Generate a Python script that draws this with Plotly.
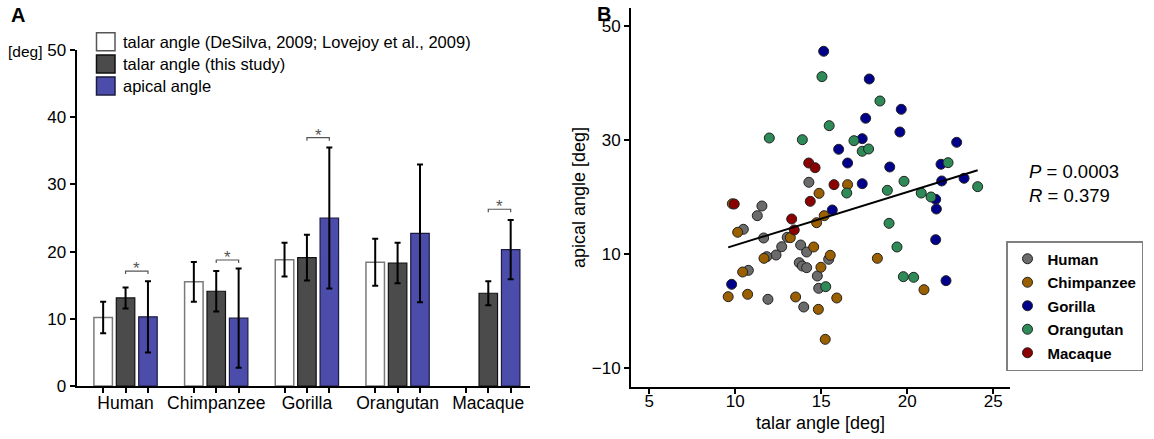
import numpy as np
import plotly.graph_objects as go

# ---------------- Panel A data ----------------
species = ["Human", "Chimpanzee", "Gorilla", "Orangutan", "Macaque"]
talar_lit_mean = [10.2, 15.5, 18.8, 18.4, None]
talar_lit_sd = [2.35, 2.95, 2.5, 3.5, None]
talar_study_mean = [13.1, 14.1, 19.1, 18.3, 13.8]
talar_study_sd = [1.55, 3.0, 3.4, 3.0, 1.8]
apical_mean = [10.3, 10.1, 25.0, 22.7, 20.3]
apical_sd = [5.3, 7.4, 10.5, 10.25, 4.4]
sig_species = ["Human", "Chimpanzee", "Gorilla", "Macaque"]
sig_y = [17.1, 18.75, 36.95, 26.3]

# ---------------- Panel B data ----------------
human_talar = [14.28, 11.55, 11.28, 10.47, 11.65, 12.70, 13.02, 12.37, 11.83, 13.80,
               14.15, 13.72, 13.90, 14.15, 15.43, 14.77, 14.85, 10.76, 11.90, 13.98]
human_apical = [22.58, 18.42, 16.72, 14.33, 12.81, 11.28, 12.93, 9.82, 9.53, 11.58,
                10.35, 8.47, 7.89, 7.60, 9.07, 6.14, 3.98, 7.13, 2.05, 0.70]
chimp_talar = [9.83, 10.14, 13.20, 14.73, 15.17, 11.67, 14.56, 15.52, 14.98, 10.43,
               9.59, 10.72, 13.51, 14.83, 15.90, 15.23, 18.26, 20.97, 16.53, 14.87]
chimp_apical = [18.8, 13.81, 12.87, 15.49, 16.72, 9.24, 11.23, 9.77, 7.67, 6.84,
                2.51, 2.93, 2.46, 0.29, 2.28, -4.97, 9.24, 3.74, 22.16, 20.64]
gorilla_talar = [15.14, 17.79, 19.65, 17.58, 19.57, 17.38, 22.87, 16.01, 16.53, 18.98,
                 21.96, 17.38, 22.00, 23.30, 21.65, 21.69, 15.64, 21.65, 22.25, 9.79]
gorilla_apical = [45.56, 40.70, 35.38, 33.81, 31.40, 30.23, 29.59, 28.37, 25.96, 25.26,
                  25.74, 22.33, 22.81, 23.28, 19.59, 17.89, 17.72, 12.51, 5.32, 4.68]
orang_talar = [15.04, 18.41, 15.46, 11.98, 13.90, 16.90, 17.38, 17.75, 22.37, 19.81,
               24.09, 18.84, 16.48, 20.81, 21.38, 18.94, 19.40, 19.77, 20.37, 15.26]
orang_apical = [41.11, 36.84, 32.51, 30.35, 30.05, 29.88, 28.02, 28.42, 26.02, 22.75,
                21.81, 21.17, 20.70, 20.70, 20.00, 15.38, 11.23, 6.02, 5.91, 4.27]
macaque_talar = [9.94, 14.27, 14.64, 15.74, 14.36, 13.28, 13.43]
macaque_apical = [18.77, 25.96, 25.14, 22.16, 19.24, 16.14, 14.21]
stat_text = ["<i>P</i> = 0.0003", "<i>R</i> = 0.379"]

W, H = 1154, 439
FONT = "Liberation Sans, Arial, Helvetica, sans-serif"


def px(x):
    return x / W


def py(y):
    return 1 - y / H


fig = go.Figure()

# ---------------- Panel A bars ----------------
gpos = np.arange(len(species))
step = 0.247
bw = 0.204
bar_specs = [
    ("talar angle (DeSilva, 2009; Lovejoy et al., 2009)", talar_lit_mean, talar_lit_sd, -step, "white", "#7a7a7a", 1.5),
    ("talar angle (this study)", talar_study_mean, talar_study_sd, 0.0, "#4b4b4b", "#111111", 1.2),
    ("apical angle", apical_mean, apical_sd, step, "#4c4cab", "#1c1c40", 1.2),
]
for name, m, sd, off, fc, lc, lw in bar_specs:
    fig.add_trace(go.Bar(
        x=gpos, y=m, name=name, offset=off - bw / 2, width=bw,
        marker=dict(color=fc, line=dict(color=lc, width=lw)),
        error_y=dict(type="data", array=sd, visible=True, color="black", thickness=2, width=3),
        xaxis="x", yaxis="y", showlegend=False,
    ))

# significance brackets
bx, by = [], []
for s, yv in zip(sig_species, sig_y):
    g = species.index(s)
    bx += [g, g, g + step, g + step, None]
    by += [yv - 0.45, yv, yv, yv - 0.45, None]
fig.add_trace(go.Scatter(x=bx, y=by, mode="lines", line=dict(color="#555555", width=1.2),
                         xaxis="x", yaxis="y", showlegend=False, hoverinfo="skip"))

annotations = []
for s, yv in zip(sig_species, sig_y):
    g = species.index(s)
    annotations.append(dict(x=g + step / 2, y=yv + 0.35, xref="x", yref="y", text="*",
                            showarrow=False, yanchor="middle",
                            font=dict(family=FONT, size=17, color="#555555")))

# ---------------- Panel B scatter ----------------
groups = [
    ("Human", human_talar, human_apical, "#6b6b6b"),
    ("Chimpanzee", chimp_talar, chimp_apical, "#9a6000"),
    ("Gorilla", gorilla_talar, gorilla_apical, "#00008b"),
    ("Orangutan", orang_talar, orang_apical, "#2e8b57"),
    ("Macaque", macaque_talar, macaque_apical, "#8b0000"),
]
for name, xs, ys, col in groups:
    fig.add_trace(go.Scatter(
        x=xs, y=ys, mode="markers", name=name, legendgroup=name,
        marker=dict(size=10, color=col, line=dict(color="#222222", width=1)),
        xaxis="x2", yaxis="y2", legend="legend",
    ))

all_x = np.concatenate([g[1] for g in groups])
all_y = np.concatenate([g[2] for g in groups])
slope, intercept = np.polyfit(all_x, all_y, 1)
fx = np.array([all_x.min(), all_x.max()])
fig.add_trace(go.Scatter(x=fx, y=slope * fx + intercept, mode="lines",
                         line=dict(color="black", width=2), xaxis="x2", yaxis="y2",
                         showlegend=False, hoverinfo="skip"))

# ---------------- manual legend for panel A ----------------
shapes = []
leg_rows = [41.8, 64.0, 85.9]
for (name, m, sd, off, fc, lc, lw), yc in zip(bar_specs, leg_rows):
    shapes.append(dict(type="rect", xref="paper", yref="paper",
                       x0=px(96.5), x1=px(115), y0=py(yc - 9), y1=py(yc + 9),
                       fillcolor=fc, line=dict(color=lc if fc != "white" else "#555555", width=1.5)))
    annotations.append(dict(x=px(121), y=py(yc), xref="paper", yref="paper", text=name,
                            showarrow=False, xanchor="left", yanchor="middle",
                            font=dict(family=FONT, size=16.5, color="black")))

annotations += [
    dict(x=px(9), y=py(14.5), xref="paper", yref="paper", text="<b>A</b>", showarrow=False,
         xanchor="left", yanchor="middle", font=dict(family=FONT, size=20, color="black")),
    dict(x=px(595), y=py(13.5), xref="paper", yref="paper", text="<b>B</b>", showarrow=False,
         xanchor="left", yanchor="middle", font=dict(family=FONT, size=20, color="black")),
    dict(x=px(44), y=py(51.5), xref="paper", yref="paper", text="[deg]", showarrow=False,
         xanchor="right", yanchor="middle", font=dict(family=FONT, size=15.5, color="black")),
    dict(x=px(1027), y=py(171.5), xref="paper", yref="paper", text=stat_text[0], showarrow=False,
         xanchor="left", yanchor="middle", font=dict(family=FONT, size=18.5, color="black")),
    dict(x=px(1027), y=py(195.5), xref="paper", yref="paper", text=stat_text[1], showarrow=False,
         xanchor="left", yanchor="middle", font=dict(family=FONT, size=18.5, color="black")),
]

tickvals_a = [g + o for g in gpos for o in (-step, 0.0, step)]
ticktext_a = [species[g] if o == 0.0 else "" for g in gpos for o in (-step, 0.0, step)]

axis_style = dict(showline=True, linecolor="black", linewidth=2, ticks="outside",
                  ticklen=5, tickwidth=1.5, tickcolor="black", showgrid=False,
                  zeroline=False, mirror=False, automargin=False)

fig.update_layout(
    template="none",
    width=W, height=H, autosize=False,
    margin=dict(l=0, r=0, t=0, b=0, pad=0),
    paper_bgcolor="white", plot_bgcolor="white",
    font=dict(family=FONT, color="black"),
    barmode="overlay",
    xaxis=dict(domain=[px(76.5), px(530)], range=[-0.541, 4.46], tickvals=tickvals_a,
               ticktext=ticktext_a, tickfont=dict(size=17.5), ticklabelstandoff=-5,
               anchor="y", **axis_style),
    yaxis=dict(domain=[py(386), py(50)], range=[0, 50], tickvals=[0, 10, 20, 30, 40, 50],
               tickfont=dict(size=17), anchor="x", **axis_style),
    xaxis2=dict(domain=[px(631), px(1010)], range=[3.94, 25.97], tickvals=[5, 10, 15, 20, 25],
                tickfont=dict(size=17), ticklabelstandoff=-7, anchor="y2",
                title=dict(text="talar angle [deg]", font=dict(size=18), standoff=6), **axis_style),
    yaxis2=dict(domain=[py(386.7), py(8.3)], range=[-13.28, 53.1], tickvals=[-10, 10, 30, 50],
                tickfont=dict(size=17), anchor="x2",
                title=dict(text="apical angle [deg]", font=dict(size=18), standoff=1), **axis_style),
    legend=dict(x=px(1006), y=py(241), xanchor="left", yanchor="top",
                bordercolor="#808080", borderwidth=1.5, bgcolor="white",
                font=dict(family=FONT, size=15, color="black", weight="bold"),
                tracegroupgap=1, itemwidth=30),
    shapes=shapes,
    annotations=annotations,
)

fig.write_html(
    "out.html",
    config={"displayModeBar": False},
    post_script="document.body.style.margin='0px';document.body.style.overflow='hidden';",
)
